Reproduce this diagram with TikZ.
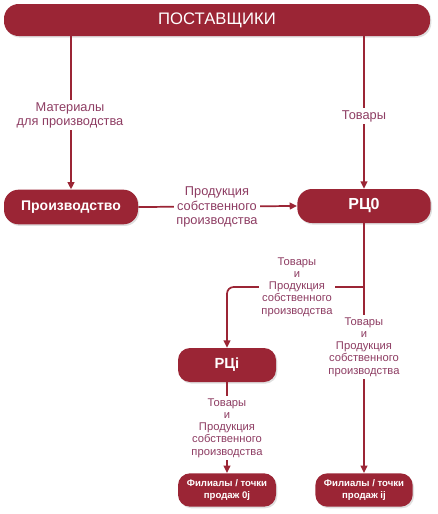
\documentclass[tikz,border=0pt]{standalone}
\usepackage{fontspec}
\setmainfont{Liberation Sans}
\usepackage{tikz}
\usetikzlibrary{arrows.meta, shadows}
\definecolor{boxred}{HTML}{9B2535}
\definecolor{lblmauve}{HTML}{8E3D63}
\tikzset{
    unit box/.style={fill=boxred, text=white, rounded corners=11pt, align=center,
        drop shadow={shadow xshift=1pt, shadow yshift=-1.2pt, opacity=0.25}},
    flow/.style={draw=boxred, line width=1.3pt, -{Triangle[length=5.5pt, width=5pt]}},
    flow label/.style={text=lblmauve, fill=white, align=center, inner sep=1.5pt,
        font=\fontsize{8.4}{9.2}\selectfont}
}
\begin{document}
\begin{tikzpicture}[x=0.75pt, y=-0.75pt]
    \useasboundingbox (0,0) rectangle (438,514);

    % Boxes
    \node[unit box, minimum width=319.5pt, minimum height=24pt, font=\fontsize{12.5}{14}\selectfont]
        (supp) at (217,20) {ПОСТАВЩИКИ};
    \node[unit box, minimum width=100.5pt, minimum height=26pt, font=\fontsize{10.5}{12}\selectfont\bfseries]
        (prod) at (71,207) {Производство};
    \node[unit box, minimum width=100pt, minimum height=25.5pt, font=\fontsize{12}{14}\selectfont\bfseries]
        (rc0) at (364,206) {РЦ0};
    \node[unit box, minimum width=73.5pt, minimum height=25.5pt, rounded corners=9pt, font=\fontsize{11}{13}\selectfont\bfseries]
        (rci) at (227,365) {РЦi};
    \node[unit box, minimum width=73.5pt, minimum height=25pt, rounded corners=9pt, font=\fontsize{7.2}{9.5}\selectfont\bfseries]
        (fil0) at (227,490) {Филиалы / точки\\продаж 0j};
    \node[unit box, minimum width=73pt, minimum height=25pt, rounded corners=9pt, font=\fontsize{7.2}{9.5}\selectfont\bfseries]
        (fili) at (364,490) {Филиалы / точки\\продаж ij};

    % Connectors
    \draw[flow] (prod.north |- supp.south) -- (prod.north);
    \draw[flow] (rc0.north |- supp.south) -- (rc0.north);
    \draw[flow] (prod.east) -- (rc0.west);
    \draw[flow] (rc0.south) -- (fili.north);
    \coordinate (split) at (364,287);
    \draw[flow, rounded corners=5pt] (split) -- (rci.north |- split) -- (rci.north);
    \draw[flow] (rci.south) -- (fil0.north);

    % Labels
    \node[flow label, font=\fontsize{9.6}{10.6}\selectfont] (lmat) at (70,115) {Материалы\\для производства};
    \node[flow label, font=\fontsize{9.6}{10.6}\selectfont] (ltov) at (364,116) {Товары};
    \node[flow label, font=\fontsize{9.6}{10.8}\selectfont] (lown) at (217,207) {Продукция\\собственного\\производства};
    \node[flow label] (lsplit) at (297,287) {Товары\\и\\Продукция\\собственного\\производства};
    \node[flow label] (lright) at (364,347) {Товары\\и\\Продукция\\собственного\\производства};
    \node[flow label] (lleft) at (227,428) {Товары\\и\\Продукция\\собственного\\производства};
\end{tikzpicture}
\end{document}
